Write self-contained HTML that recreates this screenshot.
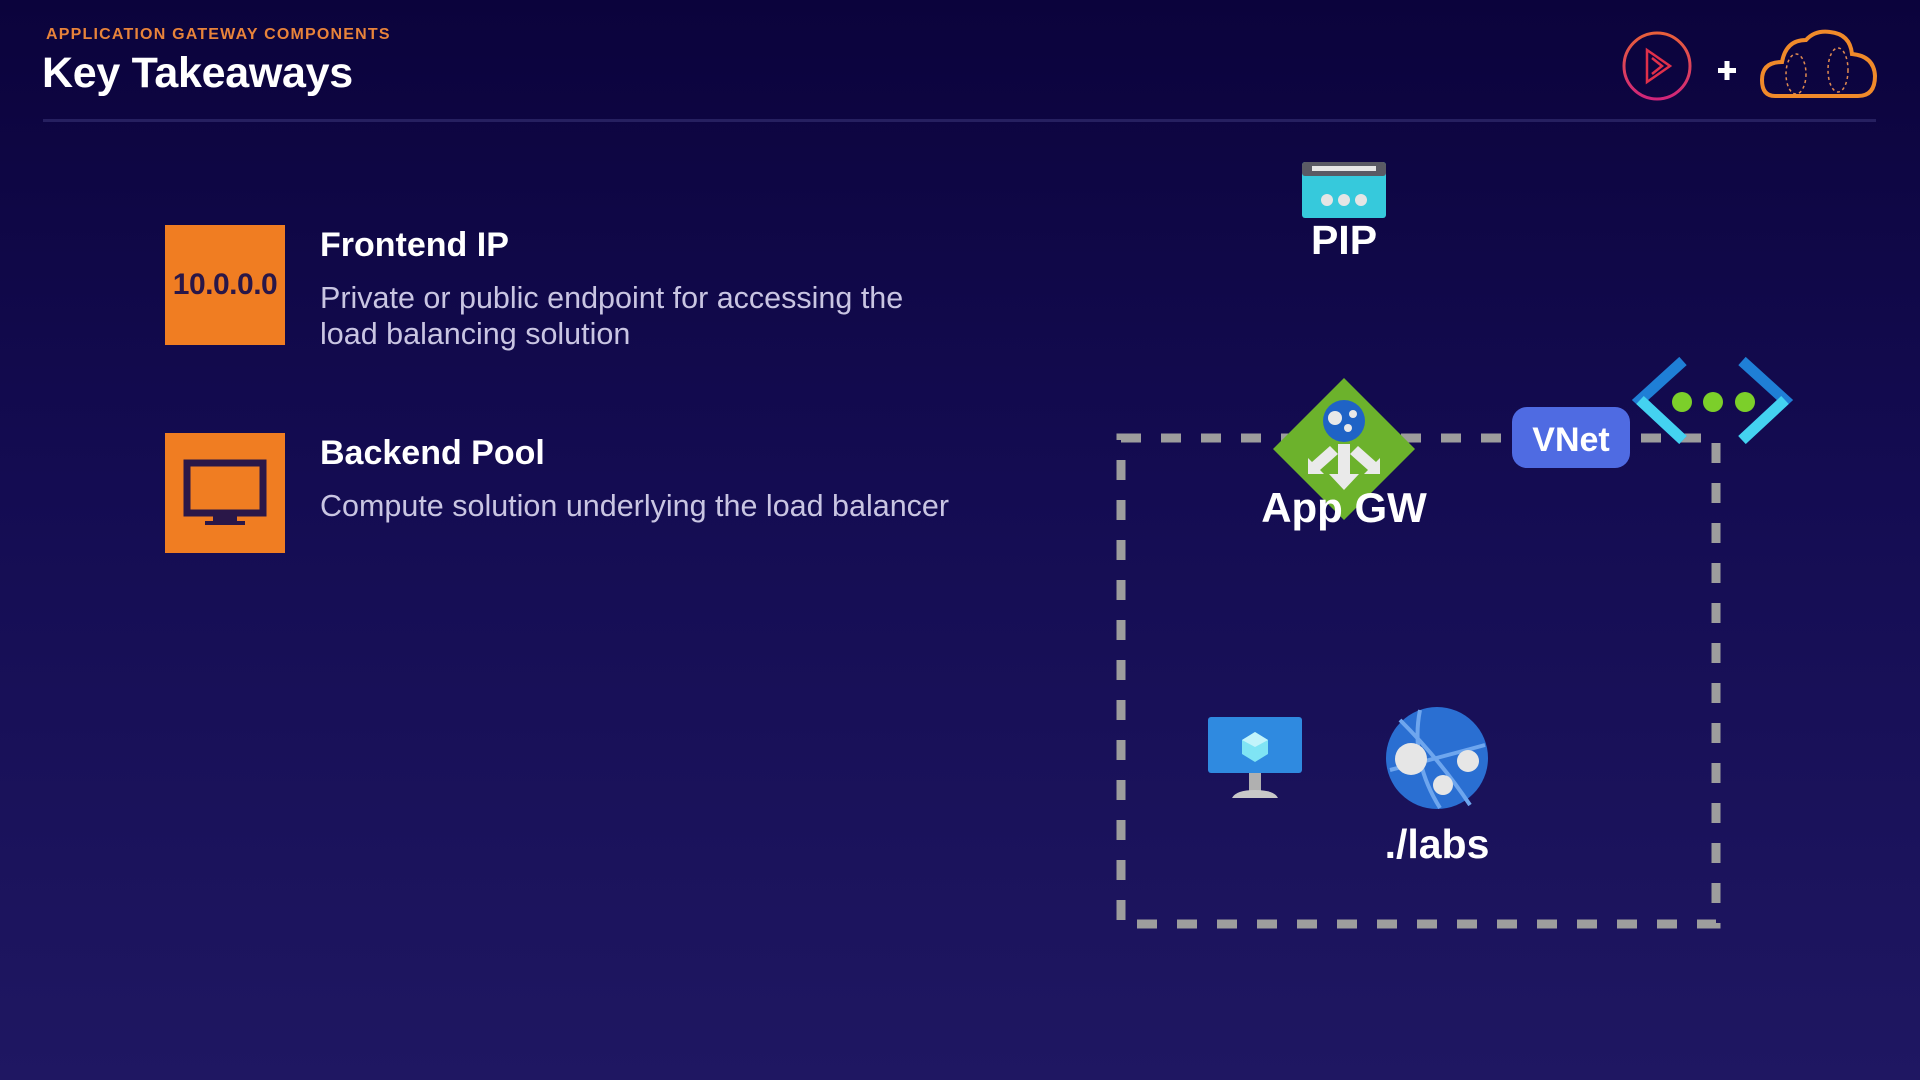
<!DOCTYPE html>
<html><head><meta charset="utf-8"><style>
html,body{margin:0;padding:0}
body{width:1920px;height:1080px;overflow:hidden;background:linear-gradient(180deg,#0b033c 0%,#140c52 45%,#1f1762 100%);font-family:"Liberation Sans",sans-serif;position:relative;color:#fff}
.abs{position:absolute}
.sub{left:46px;top:26px;font-size:16px;font-weight:bold;color:#e8833a;letter-spacing:1.2px}
.h1{left:42px;top:49px;font-size:43px;font-weight:bold;letter-spacing:-0.3px}
.line{left:43px;top:119px;width:1833px;height:3px;background:#262060}
.box{width:120px;height:120px;background:#f07d22;left:165px}
.t{left:320px;font-size:34px;font-weight:bold}
.d{left:320px;font-size:30.5px;color:#c9c5e2;line-height:36px}
</style></head><body>
<div class="abs sub">APPLICATION GATEWAY COMPONENTS</div>
<div class="abs h1">Key Takeaways</div>
<div class="abs line"></div>

<div class="abs box" style="top:225px;display:flex;align-items:center;justify-content:center;font-size:30px;font-weight:bold;color:#2a1748;letter-spacing:-0.5px">10.0.0.0</div>
<div class="abs t" style="top:226px">Frontend IP</div>
<div class="abs d" style="top:280px">Private or public endpoint for accessing the<br>load balancing solution</div>

<div class="abs box" style="top:433px">
<svg width="120" height="120"><rect x="22" y="30" width="76" height="50" fill="none" stroke="#2a1748" stroke-width="7"/><rect x="48" y="80" width="24" height="8" fill="#2a1748"/><rect x="40" y="88" width="40" height="4" fill="#2a1748"/></svg></div>
<div class="abs t" style="top:434px">Backend Pool</div>
<div class="abs d" style="top:488px">Compute solution underlying the load balancer</div>

<svg class="abs" style="left:0;top:0" width="1920" height="1080">
<defs><linearGradient id="pg" x1="0" y1="0" x2="0" y2="1"><stop offset="0" stop-color="#e8603a"/><stop offset="1" stop-color="#d0257a"/></linearGradient></defs>
<circle cx="1657" cy="66" r="33" fill="none" stroke="url(#pg)" stroke-width="3"/>
<path d="M1647 50 L1670 66 L1647 82 Z M1652 58 L1662 66 L1652 74" fill="none" stroke="#e0304a" stroke-width="2.5"/>
<rect x="1718" y="68" width="18" height="5" fill="#fff"/><rect x="1724.5" y="61" width="5" height="19" fill="#fff"/>
<path d="M1775 96 Q1762 96 1762 80 Q1762 62 1782 62 Q1786 40 1806 40 Q1815 30 1830 32 Q1850 34 1852 54 Q1874 56 1875 76 Q1875 96 1858 96 Z" fill="none" stroke="#f08a2a" stroke-width="4"/>
<ellipse cx="1796" cy="74" rx="10" ry="20" fill="none" stroke="#e08a50" stroke-width="1.5" stroke-dasharray="3 3"/>
<ellipse cx="1838" cy="70" rx="10" ry="22" fill="none" stroke="#e08a50" stroke-width="1.5" stroke-dasharray="3 3"/>

<rect x="1121" y="438" width="595" height="486" fill="none" stroke="#9d9d9d" stroke-width="9" stroke-dasharray="20 20"/>

<rect x="1302" y="162" width="84" height="56" rx="3" fill="#36c9dc"/>
<rect x="1302" y="162" width="84" height="14" rx="3" fill="#5a5a64"/>
<rect x="1312" y="166" width="64" height="5" fill="#e6e6e6"/>
<circle cx="1327" cy="200" r="6" fill="#e5e5e5"/><circle cx="1344" cy="200" r="6" fill="#e5e5e5"/><circle cx="1361" cy="200" r="6" fill="#e5e5e5"/>
<text x="1344" y="254" text-anchor="middle" font-size="41" font-weight="bold" fill="#fff" font-family="Liberation Sans">PIP</text>

<polygon points="1344,378 1415,449 1344,520 1273,449" fill="#6cb22c"/>
<circle cx="1344" cy="421" r="21" fill="#1f63c6"/>
<circle cx="1335" cy="418" r="7" fill="#e8e8e8"/><circle cx="1353" cy="414" r="4" fill="#e8e8e8"/><circle cx="1348" cy="428" r="4" fill="#e8e8e8"/>
<path d="M1338 444 h12 v30 h9 l-15 16 l-15 -16 h9 z" fill="#eaeaea"/>
<path d="M1330 446 l-18 16 l-4 -4 v16 h16 l-4 -4 l18 -16 z" fill="#eaeaea"/>
<path d="M1358 446 l18 16 l4 -4 v16 h-16 l4 -4 l-18 -16 z" fill="#eaeaea"/>
<text x="1344" y="522" text-anchor="middle" font-size="42" font-weight="bold" fill="#fff" font-family="Liberation Sans">App GW</text>

<rect x="1512" y="407" width="118" height="61" rx="15" fill="#4f6be2"/>
<text x="1571" y="451" text-anchor="middle" font-size="34" font-weight="bold" fill="#fff" font-family="Liberation Sans">VNet</text>
<path d="M1683 361 L1640 400 L1683 440" fill="none" stroke="#1f7fd6" stroke-width="11"/>
<path d="M1640 400 L1683 440" stroke="#44d2f0" stroke-width="11"/>
<path d="M1742 361 L1785 400 L1742 440" fill="none" stroke="#1f7fd6" stroke-width="11"/>
<path d="M1785 400 L1742 440" stroke="#44d2f0" stroke-width="11"/>
<circle cx="1682" cy="402" r="10" fill="#7ccf2a"/><circle cx="1713" cy="402" r="10" fill="#7ccf2a"/><circle cx="1745" cy="402" r="10" fill="#7ccf2a"/>

<rect x="1208" y="717" width="94" height="56" rx="3" fill="#2f8ae0"/>
<polygon points="1255,732 1268,740 1268,754 1255,762 1242,754 1242,740" fill="#7fe4f4"/>
<polygon points="1255,732 1268,740 1255,747 1242,740" fill="#c2f4fb"/>
<rect x="1249" y="773" width="12" height="18" fill="#b0b0b0"/>
<path d="M1232 798 Q1236 790 1255 790 Q1274 790 1278 798 Z" fill="#c8c8c8"/>

<circle cx="1437" cy="758" r="51" fill="#2a6fd2"/>
<path d="M1400 720 Q1440 760 1470 805 M1420 710 Q1410 760 1440 808 M1390 770 Q1430 760 1485 745" stroke="#6ea6ee" stroke-width="4" fill="none"/>
<circle cx="1411" cy="759" r="16" fill="#e6e6e6"/><circle cx="1468" cy="761" r="11" fill="#e6e6e6"/><circle cx="1443" cy="785" r="10" fill="#e6e6e6"/>
<text x="1437" y="858" text-anchor="middle" font-size="41" font-weight="bold" fill="#fff" font-family="Liberation Sans">./labs</text>
</svg>
</body></html>
